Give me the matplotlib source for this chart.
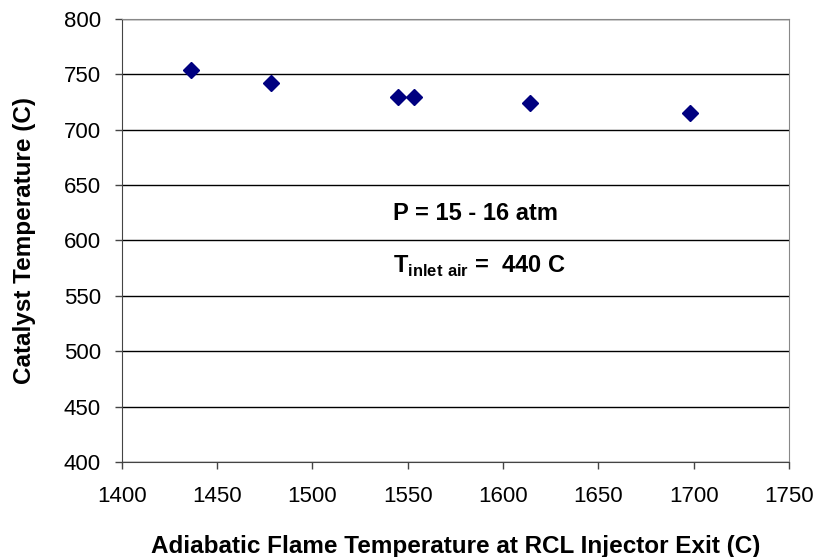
import matplotlib
matplotlib.use('Agg')
import matplotlib.pyplot as plt

plt.rcParams['font.family'] = ['Liberation Sans', 'DejaVu Sans']
plt.rcParams['mathtext.fontset'] = 'custom'
plt.rcParams['mathtext.rm'] = 'Liberation Sans'
plt.rcParams['mathtext.bf'] = 'Liberation Sans:bold'

# data
flame_temp = [1436, 1478, 1545, 1553, 1614, 1698]
catalyst_temp = [754, 742, 730, 730, 724, 715]

fig = plt.figure(figsize=(8.18, 5.57), dpi=100)
ax = fig.add_axes([0.149, 0.1706, 0.8156, 0.7953])

ax.plot(flame_temp, catalyst_temp, linestyle='none', marker='D', markersize=8.5,
        color='#000080', zorder=3)

ax.set_xlim(1400, 1750)
ax.set_ylim(400, 800)
ax.set_xticks(range(1400, 1751, 50))
ax.set_yticks(range(400, 801, 50))
ax.yaxis.grid(True, color='black', linewidth=1)
ax.set_axisbelow(True)

for s in ['top', 'right']:
    ax.spines[s].set_color('#888888')
for s in ['left', 'bottom']:
    ax.spines[s].set_color('#444444')
ax.tick_params(direction='out', length=5, width=1, labelsize=16, color='#444444')
ax.tick_params(axis='x', pad=12.5)
ax.tick_params(axis='y', pad=10)

ax.set_xlabel('Adiabatic Flame Temperature at RCL Injector Exit (C)', fontsize=17.5,
              fontweight='bold')
ax.xaxis.label.set_va('baseline')
ax.xaxis.set_label_coords(0.5, -0.2054)
ax.set_ylabel('Catalyst Temperature (C)', fontsize=17.5, fontweight='bold')
ax.yaxis.label.set_va('center')
ax.yaxis.set_label_coords(-0.1454, 0.5)

ax.text(1585.5, 618.5, 'P = 15 - 16 atm', fontsize=17, fontweight='bold',
        ha='center', va='baseline')
ax.text(1542, 570.4, r'T$_{\mathbf{inlet\ air}}$ =  440 C', fontsize=17, fontweight='bold',
        ha='left', va='baseline')

fig.savefig('out.png', dpi=100)
